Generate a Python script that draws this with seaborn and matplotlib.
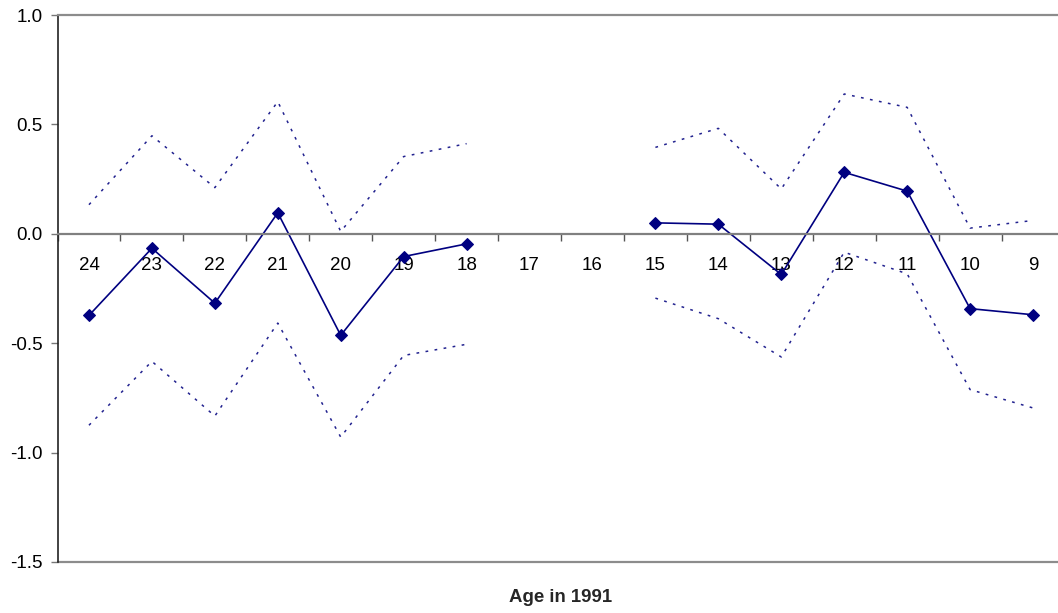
import numpy as np
import pandas as pd
import matplotlib
matplotlib.use("Agg")
import matplotlib.pyplot as plt
import seaborn as sns

ages = ["24", "23", "22", "21", "20", "19", "18", "17", "16", "15", "14", "13", "12", "11", "10", "9"]
estimate = [-0.373, -0.066, -0.317, 0.096, -0.464, -0.104, -0.046, np.nan, np.nan,
            0.050, 0.044, -0.186, 0.281, 0.195, -0.342, -0.370]
upper = [0.133, 0.448, 0.211, 0.604, 0.011, 0.353, 0.412, np.nan, np.nan,
         0.395, 0.482, 0.205, 0.639, 0.578, 0.026, 0.061]
lower = [-0.875, -0.583, -0.833, -0.408, -0.929, -0.556, -0.505, np.nan, np.nan,
         -0.294, -0.388, -0.563, -0.084, -0.183, -0.712, -0.796]
segment = [0, 0, 0, 0, 0, 0, 0, 1, 1, 2, 2, 2, 2, 2, 2, 2]
yticks = [-1.5, -1.0, -0.5, 0.0, 0.5, 1.0]
ytick_labels = ["-1.5", "-1.0", "-0.5", "0.0", "0.5", "1.0"]

df = pd.DataFrame({"pos": np.arange(len(ages)), "age": ages, "est": estimate,
                   "upper": upper, "lower": lower, "seg": segment})

sns.set_theme(style="white")
plt.rcParams["font.family"] = ["Liberation Sans", "DejaVu Sans"]

W, H = 1058, 613
fig = plt.figure(figsize=(W / 100, H / 100), dpi=100)
left_px, right_px, top_px, bottom_px = 57.5, 1064.5, 15, 562
ax = fig.add_axes([left_px / W, 1 - bottom_px / H, (right_px - left_px) / W, (bottom_px - top_px) / H])

navy = "#000080"
for col in ["upper", "lower"]:
    sns.lineplot(data=df, x="pos", y=col, units="seg", estimator=None, ax=ax,
                 color="#22228f", linewidth=1.1, linestyle=(0, (1.8, 4.2)), legend=False)
sns.lineplot(data=df, x="pos", y="est", units="seg", estimator=None, ax=ax,
             color=navy, linewidth=1.2, marker="D", markersize=5.8,
             markeredgecolor=navy, markerfacecolor=navy, legend=False)

ax.set_xlim(-0.5, len(ages) - 0.5)
ax.set_ylim(-1.5, 1.0)
ax.set_yticks(yticks)
ax.set_yticklabels(ytick_labels)

ax.set_xticks(df["pos"])
ax.set_xticklabels(ages)
ax.set_xticks(np.arange(len(ages) + 1) - 0.5, minor=True)
ax.tick_params(axis="x", which="major", length=0, pad=17, labelsize=13.5, labelcolor="black")
ax.tick_params(axis="x", which="minor", length=5, width=1, color="#555555", direction="out", bottom=True)
ax.tick_params(axis="y", which="major", length=5, width=1, color="#777777", direction="out",
               left=True, pad=5.5, labelsize=13.5, labelcolor="black")

ax.spines["bottom"].set_position(("data", 0))
ax.spines["bottom"].set_color("#808080")
ax.spines["bottom"].set_linewidth(1.6)
ax.spines["left"].set_color("#222222")
ax.spines["left"].set_linewidth(1.2)
ax.spines["top"].set_color("#8c8c8c")
ax.spines["top"].set_linewidth(1.6)
ax.spines["right"].set_visible(False)
ax.axhline(-1.5, color="#8c8c8c", linewidth=1.6, clip_on=False, zorder=0)

ax.set_ylabel("")
ax.set_xlabel("")
fig.text((left_px + right_px) / 2 / W, 1 - 597 / H, "Age in 1991", ha="center", va="center",
         fontsize=13.4, fontweight="bold")

fig.savefig("out.png", dpi=100)
